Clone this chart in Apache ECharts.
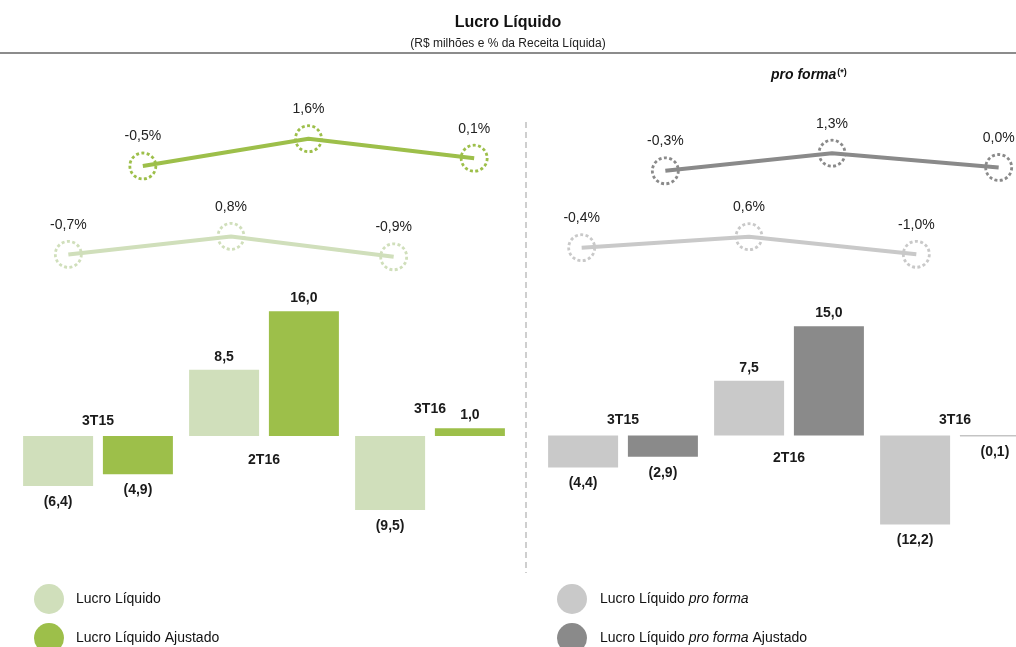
<!DOCTYPE html>
<html>
<head>
<meta charset="utf-8">
<script src="https://cdn.jsdelivr.net/npm/echarts@6/dist/echarts.min.js"></script>
<style>
html,body{margin:0;padding:0;background:#fff;}
#c{width:1016px;height:647px;}
</style>
</head>
<body>
<div id="c"></div>
<script>
// ---- data ----
const categories = ['3T15', '2T16', '3T16'];
const lucroLiquido = [-6.4, 8.5, -9.5];
const lucroAjustado = [-4.9, 16.0, 1.0];
const lucroProForma = [-4.4, 7.5, -12.2];
const lucroProFormaAjustado = [-2.9, 15.0, -0.1];
const margemLL = [-0.7, 0.8, -0.9];
const margemLLA = [-0.5, 1.6, 0.1];
const margemPF = [-0.4, 0.6, -1.0];
const margemPFA = [-0.3, 1.3, 0.0];

const C_LL = '#d0dfbb', C_LLA = '#9dbf4a', C_PF = '#c9c9c9', C_PFA = '#8a8a8a';
const FONT = "'Liberation Sans', Arial, sans-serif";

function numFmt(v){
  const s = Math.abs(v).toFixed(1).replace('.', ',');
  return v < 0 ? '(' + s + ')' : s;
}
function pctFmt(v){
  return (v < 0 ? '-' : '') + Math.abs(v).toFixed(1).replace('.', ',') + '%';
}
function barData(arr){
  return arr.map(v => ({
    value: v,
    label: { position: v < 0 ? 'bottom' : 'top', distance: v < 0 ? 9 : 6 }
  }));
}
function barSeries(name, arr, color, gi){
  return {
    name: name, type: 'bar', xAxisIndex: gi, yAxisIndex: gi,
    barWidth: 70, barGap: '14%',
    itemStyle: { color: color },
    data: barData(arr),
    label: { show: true, formatter: p => numFmt(p.value), color: '#1a1a1a',
      fontFamily: FONT, fontWeight: 'bold', fontSize: 14 },
    silent: true
  };
}
function catLabelSeries(gi, offsets){
  return {
    type: 'scatter', xAxisIndex: gi, yAxisIndex: gi, symbolSize: 1, z: 5,
    itemStyle: { color: 'transparent', opacity: 1 }, silent: true,
    data: categories.map((c, i) => ({ value: [i, 0], name: c, label: { offset: [0, offsets[i]] } })),
    label: { show: true, position: 'inside', formatter: p => p.name, color: '#1a1a1a', opacity: 1,
      fontFamily: FONT, fontWeight: 'bold', fontSize: 14 }
  };
}
function lineSeries(name, arr, color, gi, width){
  return {
    name: name, type: 'line', xAxisIndex: gi, yAxisIndex: gi,
    data: arr, lineStyle: { color: color, width: width },
    symbol: 'circle', symbolSize: 26, showAllSymbol: true,
    itemStyle: { color: 'transparent', borderColor: color, borderWidth: 2.8, borderType: [3, 2.4] },
    label: { show: true, position: 'top', distance: 8, formatter: p => pctFmt(p.value),
      color: '#222', fontFamily: FONT, fontSize: 14 },
    silent: true
  };
}

const grids = [
  { left: 15, width: 498, top: 295.6, height: 234 },   // left bars
  { left: 540, width: 498, top: 311.6, height: 226 },  // right bars
  { left: -13, width: 488, top: 228, height: 36 },     // LL line
  { left: 60, width: 497, top: 133.5, height: 39 },    // LLA line
  { left: 498, width: 502, top: 226.8, height: 33 },   // PF line
  { left: 582, width: 500, top: 145.5, height: 33 }    // PFA line
].map(g => Object.assign({ outerBoundsMode: 'none', containLabel: false }, g));
const yRanges = [[-12, 18], [-14, 17], [-1.5, 1.5], [-1, 2], [-1.5, 1.5], [-1, 2]];

function legendItem(name, left, top, pad){
  return {
    data: [name], orient: 'vertical', left: left, top: top,
    icon: 'circle', itemWidth: 30, itemHeight: 30, selectedMode: false,
    formatter: n => n.indexOf('pro forma') < 0 ? '{n|' + n + '}' :
      n.split('pro forma').map(s => s ? '{n|' + s + '}' : '').join('{i|pro forma}'),
    textStyle: { fontFamily: FONT, fontSize: 14, color: '#111', padding: [0, 0, 0, pad],
      rich: { n: { fontFamily: FONT, fontSize: 14, color: '#111' },
              i: { fontFamily: FONT, fontSize: 14, fontStyle: 'italic', color: '#111' } } }
  };
}

const option = {
  animation: false,
  backgroundColor: '#fff',
  title: [
    { text: 'Lucro Líquido', left: 'center', top: 10,
      textStyle: { fontFamily: FONT, fontWeight: 'bold', fontSize: 16, color: '#111' } },
    { text: '(R$ milhões e % da Receita Líquida)', left: 'center', top: 33,
      textStyle: { fontFamily: FONT, fontWeight: 'normal', fontSize: 12, color: '#222' } },
    { text: '{a|pro forma}{b|(*)}', left: 766, top: 63,
      textStyle: { rich: {
        a: { fontFamily: FONT, fontWeight: 'bold', fontStyle: 'italic', fontSize: 14, color: '#111' },
        b: { fontFamily: FONT, fontWeight: 'bold', fontSize: 9, color: '#111', verticalAlign: 'top', padding: [0, 0, 6, 1] }
      } } }
  ],
  grid: grids,
  xAxis: grids.map((g, i) => ({ type: 'category', gridIndex: i, data: categories, show: false, boundaryGap: true })),
  yAxis: grids.map((g, i) => ({ type: 'value', gridIndex: i, min: yRanges[i][0], max: yRanges[i][1], show: false })),
  legend: [
    legendItem('Lucro Líquido', 29, 579, 7),
    legendItem('Lucro Líquido Ajustado', 29, 618, 7),
    legendItem('Lucro Líquido pro forma', 552, 579, 8),
    legendItem('Lucro Líquido pro forma Ajustado', 552, 618, 8)
  ],
  graphic: [
    { type: 'line', shape: { x1: 0, y1: 53, x2: 1016, y2: 53 }, style: { stroke: '#8c8c8c', lineWidth: 2 }, silent: true },
    { type: 'line', shape: { x1: 526, y1: 122, x2: 526, y2: 573 }, style: { stroke: '#cfcfcf', lineWidth: 2, lineDash: [6, 4] }, silent: true }
  ],
  series: [
    barSeries('Lucro Líquido', lucroLiquido, C_LL, 0),
    barSeries('Lucro Líquido Ajustado', lucroAjustado, C_LLA, 0),
    barSeries('Lucro Líquido pro forma', lucroProForma, C_PF, 1),
    barSeries('Lucro Líquido pro forma Ajustado', lucroProFormaAjustado, C_PFA, 1),
    catLabelSeries(0, [-15, 24, -27]),
    catLabelSeries(1, [-15, 23, -15]),
    lineSeries('Margem LL', margemLL, C_LL, 2, 4),
    lineSeries('Margem LLA', margemLLA, C_LLA, 3, 4),
    lineSeries('Margem PF', margemPF, C_PF, 4, 4),
    lineSeries('Margem PFA', margemPFA, C_PFA, 5, 4)
  ]
};

const chart = echarts.init(document.getElementById('c'), null, { renderer: 'canvas' });
chart.setOption(option);
</script>
</body>
</html>
